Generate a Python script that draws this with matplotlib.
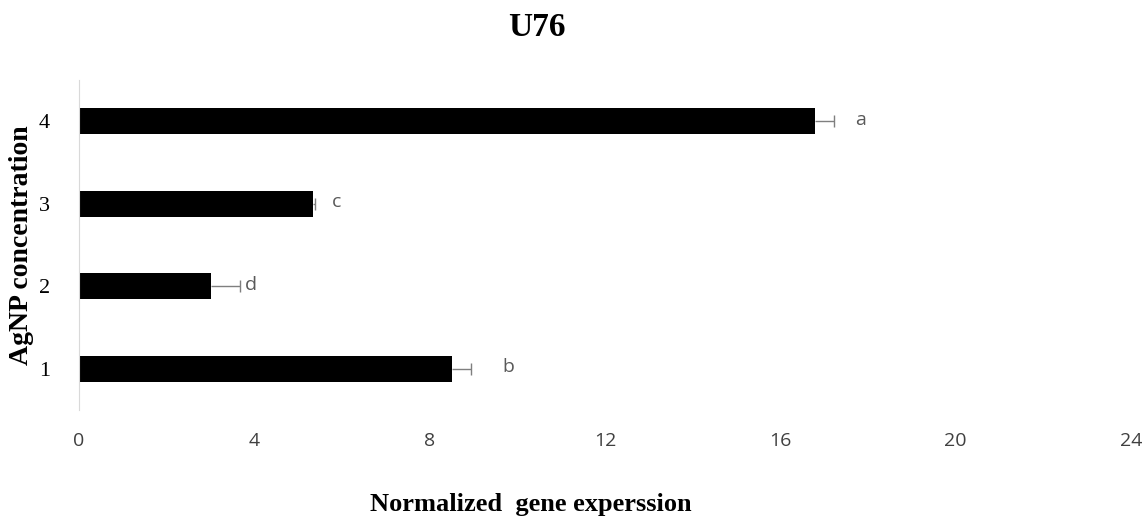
import matplotlib.pyplot as plt
import numpy as np

# data
groups = ['1', '2', '3', '4']
expression = [8.5, 3.0, 5.33, 16.78]
errors = [0.45, 0.67, 0.05, 0.45]
letters = ['b', 'd', 'c', 'a']
letter_offsets = [36, 10, 20, 25]   # px past the error cap
x_ticks = [0, 4, 8, 12, 16, 20, 24]

fig = plt.figure(figsize=(11.48, 5.19), dpi=100)
ax = fig.add_axes([79 / 1148, 1 - 410 / 519, (1131 - 79) / 1148, 330 / 519])

y = np.arange(1, len(groups) + 1)
tips = np.array(expression) + np.array(errors)
ax.barh(y, expression, height=0.31, color='black', zorder=2)
# plus-only error bars, like Excel
ax.hlines(y, expression, tips, color='#7f7f7f', lw=1, zorder=1)
ax.plot(tips, y, ls='none', marker='|', ms=9, mew=1, color='#7f7f7f', zorder=1)

for yi, t, lab, off in zip(y, tips, letters, letter_offsets):
    ax.annotate(lab, (t, yi), xytext=(off * 0.72 + 1, 1), textcoords='offset points',
                ha='center', va='center', fontsize=14, color='#595959',
                family='Open Sans')

ax.set_xlim(0, 24)
ax.set_ylim(0.5, 4.5)
ax.set_xticks(x_ticks)
ax.set_xticklabels([str(t) for t in x_ticks], family='Open Sans', fontsize=14, color='#404040')
ax.set_yticks(y)
ax.set_yticklabels(groups, family='Liberation Serif', fontsize=16)
ax.tick_params(axis='both', length=0)
ax.tick_params(axis='x', pad=16)
ax.tick_params(axis='y', pad=21)

for s in ['top', 'right', 'bottom']:
    ax.spines[s].set_visible(False)
ax.spines['left'].set_color('#d9d9d9')

fig.text(537 / 1148, 1 - 28 / 519, 'U76', ha='center', va='center',
         family='Liberation Serif', fontweight='bold', fontsize=24)
fig.text(531 / 1148, 1 - 504 / 519, 'Normalized  gene experssion', ha='center', va='center',
         family='Liberation Serif', fontweight='bold', fontsize=19)
fig.text(22 / 1148, 1 - 245 / 519, 'AgNP concentration', ha='center', va='center',
         rotation=90, family='Liberation Serif', fontweight='bold', fontsize=20)

fig.savefig('out.png', dpi=100)
